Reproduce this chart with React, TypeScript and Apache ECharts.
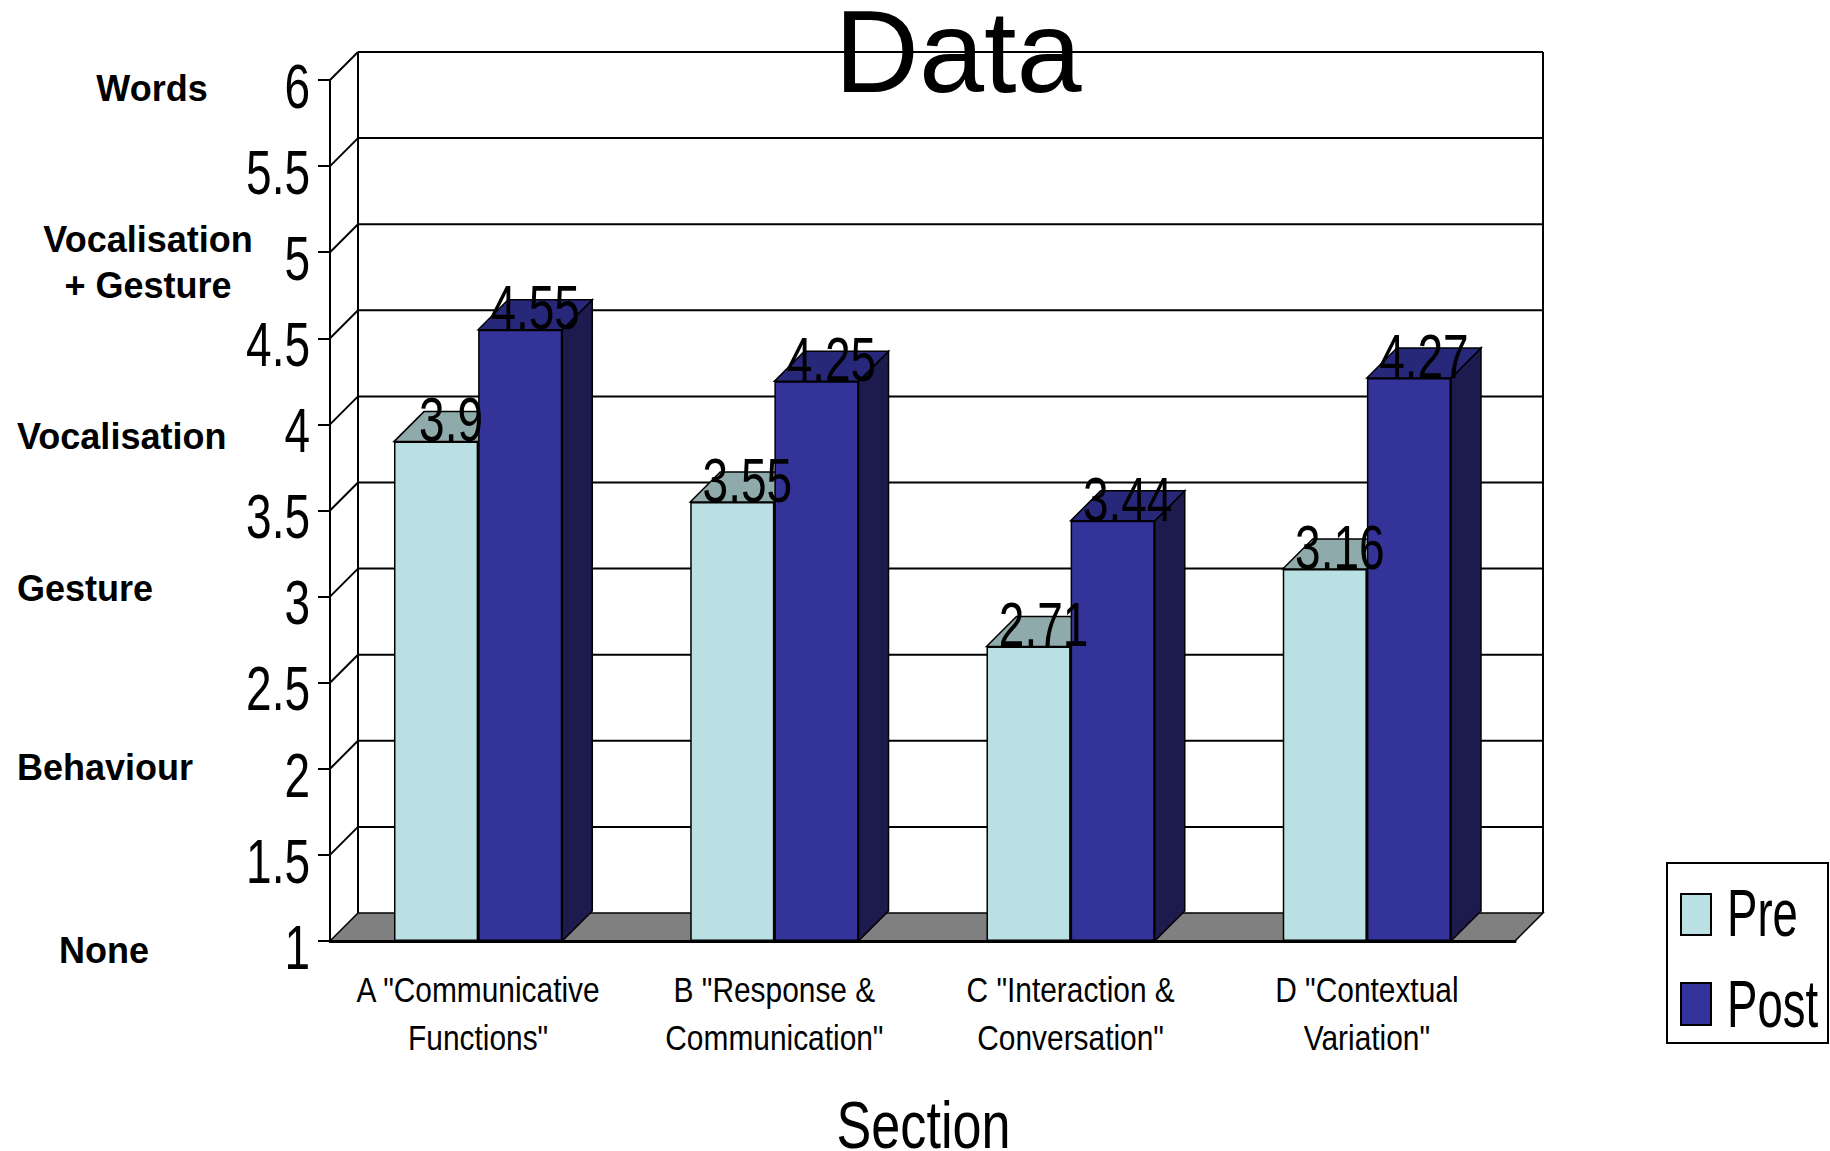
import React, { useEffect, useRef } from "react";
import * as echarts from "echarts";

// ---- data ----
const categories = [
  'A "Communicative\nFunctions"',
  'B "Response &\nCommunication"',
  'C "Interaction &\nConversation"',
  'D "Contextual\nVariation"',
];
const preScores = [3.9, 3.55, 2.71, 3.16];
const postScores = [4.55, 4.25, 3.44, 4.27];
const yTicks = [1, 1.5, 2, 2.5, 3, 3.5, 4, 4.5, 5, 5.5, 6];
const levelValues = [1, 2, 3, 4, 5, 6];
const levelNames = ["None", "Behaviour", "Gesture", "Vocalisation", "Vocalisation\n+ Gesture", "Words"];
const seriesNames = ["Pre", "Post"];
const titleText = "Data";
const xAxisTitle = "Section";

// ---- presentation ----
const Y_MIN = yTicks[0];
const Y_MAX = yTicks[yTicks.length - 1];
const Y_STEP = yTicks[1] - yTicks[0];
const GRID = { left: 330, top: 80, width: 1185, height: 861 };
const WALL_DEPTH = 28;
const BAR_DEPTH = 30;
const BAR_SHARE = 0.284;
const SANS = "'Liberation Sans', Arial, sans-serif";

const PRE = { front: "#BAE0E3", top: "#8FAAAB", side: "#6F8E90" };
const POST = { front: "#333399", top: "#28287A", side: "#1D1B4E" };

// placement of the scale descriptions on the left
const levelLayout = [
  { x: 104, align: "center", dy: 9 },
  { x: 17, align: "left", dy: -1 },
  { x: 17, align: "left", dy: -8 },
  { x: 17, align: "left", dy: 12 },
  { x: 148, align: "center", dy: 10 },
  { x: 152, align: "center", dy: 8 },
];

// narrow lettering: a regular sans face squeezed horizontally
function condensed(text: string, x: number, y: number, size: number, sx: number, align: string, extra: any = {}) {
  return {
    type: "text",
    x,
    y,
    scaleX: sx,
    style: {
      text,
      x: 0,
      y: 0,
      fontFamily: SANS,
      fontSize: size,
      fill: "#000",
      align,
      verticalAlign: "middle",
      ...extra,
    },
  };
}

function barSpan(api: any, side: number) {
  const [cx, yTop] = api.coord([api.value(0), api.value(1)]);
  const yBase = api.coord([api.value(0), Y_MIN])[1];
  const bw = api.size([1, 0])[0] * BAR_SHARE;
  const x0 = side < 0 ? cx - bw : cx;
  return { x0, x1: x0 + bw, yTop, yBase, bw };
}

function extrusion(values: number[], colors: any, side: number) {
  return {
    type: "custom",
    z: 1,
    silent: true,
    data: values.map((v, i) => [i, v]),
    renderItem: (_params: any, api: any) => {
      const { x0, x1, yTop, yBase } = barSpan(api, side);
      const d = BAR_DEPTH;
      return {
        type: "group",
        children: [
          {
            type: "polygon",
            shape: { points: [[x1, yTop], [x1 + d, yTop - d], [x1 + d, yBase - d], [x1, yBase]] },
            style: { fill: colors.side, stroke: "#000", lineWidth: 1.5 },
          },
          {
            type: "polygon",
            shape: { points: [[x0, yTop], [x1, yTop], [x1 + d, yTop - d], [x0 + d, yTop - d]] },
            style: { fill: colors.top, stroke: "#000", lineWidth: 1.5 },
          },
        ],
      };
    },
  };
}

function valueLabels(values: number[], side: number) {
  return {
    type: "custom",
    z: 5,
    silent: true,
    data: values.map((v, i) => [i, v]),
    renderItem: (_params: any, api: any) => {
      const { x0, yTop, bw } = barSpan(api, side);
      return condensed(String(api.value(1)), x0 + bw / 2 + BAR_DEPTH / 2, yTop - 22, 63, 0.73, "center");
    },
  };
}

export default function App() {
  const ref = useRef<HTMLDivElement>(null);

  useEffect(() => {
    if (!ref.current) return;
    const chart = echarts.init(ref.current, undefined, { renderer: "svg" });

    const line = (x1: number, y1: number, x2: number, y2: number, w = 2) => ({
      type: "line",
      shape: { x1, y1, x2, y2 },
      style: { stroke: "#000", lineWidth: w },
    });

    const axisBottom = GRID.top + GRID.height;

    chart.setOption({
      animation: false,
      backgroundColor: "#fff",
      graphic: [
        {
          type: "text",
          x: 958,
          y: 51,
          z: 10,
          style: {
            text: titleText,
            fontFamily: SANS,
            fontSize: 117,
            lineHeight: 96,
            fill: "#000",
            align: "center",
            verticalAlign: "middle",
          },
        },
        {
          ...condensed(xAxisTitle, GRID.left + GRID.width / 2 + 1, axisBottom + 184, 66, 0.79, "center", {
            lineHeight: 48,
          }),
          z: 10,
        },
        // legend box
        {
          type: "group",
          x: 1667,
          y: 863,
          z: 10,
          children: [
            { type: "rect", shape: { x: 0, y: 0, width: 161, height: 180 }, style: { fill: "#fff", stroke: "#000", lineWidth: 2 } },
            { type: "rect", shape: { x: 14, y: 31, width: 30, height: 41 }, style: { fill: PRE.front, stroke: "#000", lineWidth: 2 } },
            { type: "rect", shape: { x: 14, y: 120, width: 30, height: 42 }, style: { fill: POST.front, stroke: "#000", lineWidth: 2 } },
            condensed(seriesNames[0], 60, 50, 67, 0.68, "left"),
            condensed(seriesNames[1], 60, 141, 67, 0.68, "left"),
          ],
        },
      ],
      grid: GRID,
      xAxis: {
        type: "category",
        data: categories,
        axisLine: { lineStyle: { color: "#000", width: 3 } },
        axisTick: { length: 15, lineStyle: { color: "#000", width: 1.5 } },
        axisLabel: { show: false },
      },
      yAxis: {
        type: "value",
        min: Y_MIN,
        max: Y_MAX,
        interval: Y_STEP,
        startValue: Y_MIN,
        axisLine: { show: true, lineStyle: { color: "#000", width: 2 } },
        axisTick: { show: true, length: 12, lineStyle: { color: "#000", width: 2 } },
        splitLine: { show: false },
        axisLabel: { show: false },
      },
      series: [
        // back wall, side wall gridlines and floor
        {
          type: "custom",
          z: 0,
          silent: true,
          data: yTicks.map((v) => [0, v]),
          renderItem: (params: any, api: any) => {
            const cs = params.coordSys;
            const v = api.value(1);
            const y = api.coord([0, v])[1];
            const left = cs.x;
            const right = cs.x + cs.width;
            const top = cs.y;
            const bottom = cs.y + cs.height;
            const d = WALL_DEPTH;
            if (v === Y_MIN) {
              return {
                type: "group",
                children: [
                  {
                    type: "polygon",
                    shape: {
                      points: [[left, bottom], [right, bottom], [right + d, bottom - d], [left + d, bottom - d]],
                    },
                    style: { fill: "#808080", stroke: "#000", lineWidth: 1.5 },
                  },
                  line(left + d, top - d, left + d, bottom - d),
                  line(right + d, top - d, right + d, bottom - d),
                ],
              };
            }
            return {
              type: "group",
              children: [line(left + d, y - d, right + d, y - d), line(left, y, left + d, y - d)],
            };
          },
        },
        extrusion(preScores, PRE, -1),
        extrusion(postScores, POST, 1),
        {
          name: seriesNames[0],
          type: "bar",
          z: 2,
          data: preScores,
          barWidth: `${BAR_SHARE * 100}%`,
          barGap: "0%",
          itemStyle: { color: PRE.front, borderColor: "#000", borderWidth: 1.5 },
        },
        {
          name: seriesNames[1],
          type: "bar",
          z: 2,
          data: postScores,
          barWidth: `${BAR_SHARE * 100}%`,
          barGap: "0%",
          itemStyle: { color: POST.front, borderColor: "#000", borderWidth: 1.5 },
        },
        valueLabels(preScores, -1),
        valueLabels(postScores, 1),
        // value axis tick labels
        {
          type: "custom",
          z: 5,
          silent: true,
          data: yTicks.map((v) => [0, v]),
          renderItem: (params: any, api: any) => {
            const y = api.coord([0, api.value(1)])[1];
            return condensed(String(api.value(1)), params.coordSys.x - 20, y + 6, 63, 0.73, "right");
          },
        },
        // category axis labels
        {
          type: "custom",
          z: 5,
          silent: true,
          data: categories.map((_c, i) => [i, Y_MIN]),
          renderItem: (params: any, api: any) => {
            const [cx, yb] = api.coord([api.value(0), Y_MIN]);
            return condensed(categories[params.dataIndex], cx, yb + 72, 36, 0.83, "center", { lineHeight: 48 });
          },
        },
        // ordinal descriptions of the score scale
        {
          type: "custom",
          z: 5,
          silent: true,
          data: levelValues.map((v) => [0, v]),
          renderItem: (params: any, api: any) => {
            const i = params.dataIndex;
            const lay = levelLayout[i];
            const y = api.coord([0, api.value(1)])[1] + lay.dy;
            return {
              type: "text",
              x: lay.x,
              y,
              style: {
                text: levelNames[i],
                fontFamily: SANS,
                fontWeight: "bold",
                fontSize: 36,
                lineHeight: 46,
                fill: "#000",
                align: lay.align,
                verticalAlign: "middle",
              },
            };
          },
        },
      ],
    });

    return () => chart.dispose();
  }, []);

  return (
    <div
      ref={ref}
      style={{ position: "fixed", left: 0, top: 0, width: 1830, height: 1151, background: "#fff" }}
    />
  );
}
